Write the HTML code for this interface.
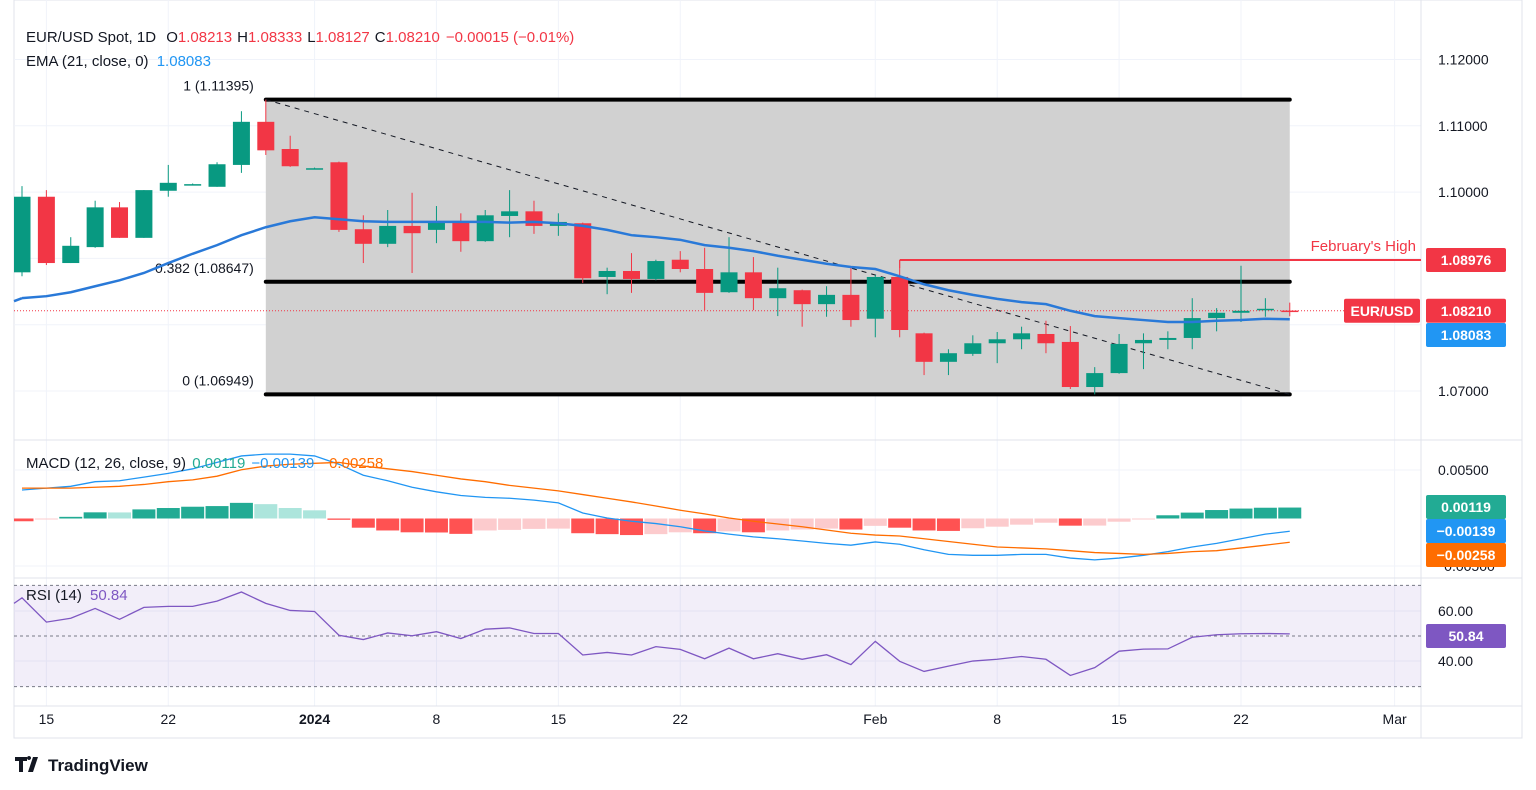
<!DOCTYPE html>
<html><head><meta charset="utf-8">
<style>
body{margin:0;background:#fff;font-family:"Liberation Sans",sans-serif;}
#wrap{position:relative;width:1536px;height:790px;overflow:hidden;}
svg text{font-family:"Liberation Sans",sans-serif;}
</style></head>
<body>
<div id="wrap">
<svg id="chart" width="1536" height="790" xmlns="http://www.w3.org/2000/svg">
<defs><clipPath id="plotclip"><rect x="14" y="0" width="1407" height="706"/></clipPath></defs>
</svg>
</div>
<script>
const dates=["Dec 14","Dec 15","Dec 18","Dec 19","Dec 20","Dec 21","Dec 22","Dec 25","Dec 26","Dec 27","Dec 28","Dec 29","Jan 1","Jan 2","Jan 3","Jan 4","Jan 5","Jan 8","Jan 9","Jan 10","Jan 11","Jan 12","Jan 15","Jan 16","Jan 17","Jan 18","Jan 19","Jan 22","Jan 23","Jan 24","Jan 25","Jan 26","Jan 29","Jan 30","Jan 31","Feb 1","Feb 2","Feb 5","Feb 6","Feb 7","Feb 8","Feb 9","Feb 12","Feb 13","Feb 14","Feb 15","Feb 16","Feb 19","Feb 20","Feb 21","Feb 22","Feb 23","Feb 26"];
const opens=[1.0879,1.0993,1.0893,1.0917,1.0977,1.0931,1.1002,1.1012,1.1008,1.1041,1.1106,1.1065,1.1036,1.1045,1.0944,1.0922,1.0949,1.0943,1.0955,1.0926,1.0964,1.0971,1.0949,1.0953,1.0872,1.0881,1.0869,1.0898,1.0884,1.0849,1.0879,1.0840,1.0852,1.0831,1.0845,1.0809,1.0872,1.0787,1.0744,1.0756,1.0772,1.0778,1.0786,1.0774,1.0706,1.0727,1.0772,1.0777,1.0780,1.0810,1.0818,1.0822,1.08213];
const highs=[1.1009,1.1003,1.0932,1.0987,1.0985,1.1003,1.1041,1.1013,1.1045,1.1122,1.11395,1.1085,1.1037,1.1046,1.0965,1.0973,1.0999,1.0979,1.0968,1.0973,1.1003,1.0987,1.0968,1.0954,1.0886,1.0908,1.0898,1.0911,1.0916,1.0932,1.0902,1.0886,1.0853,1.0858,1.0887,1.0875,1.08976,1.0788,1.0763,1.0784,1.0789,1.0797,1.0806,1.0798,1.0736,1.0786,1.0787,1.0790,1.0840,1.0825,1.0889,1.0840,1.08333];
const lows=[1.0873,1.0890,1.0893,1.0916,1.0931,1.0931,1.0993,1.1011,1.1008,1.1029,1.1056,1.1038,1.1035,1.0940,1.0893,1.0917,1.0878,1.0923,1.0910,1.0925,1.0932,1.0937,1.0934,1.0863,1.0846,1.0848,1.0867,1.0879,1.0822,1.0848,1.0822,1.0813,1.0797,1.0812,1.0797,1.0781,1.0781,1.0724,1.0724,1.0753,1.0742,1.0763,1.0757,1.0703,1.06949,1.0726,1.0733,1.0763,1.0763,1.0790,1.0804,1.0812,1.08127];
const closes=[1.0993,1.0893,1.0919,1.0977,1.0931,1.1003,1.1014,1.1012,1.1042,1.1106,1.1063,1.1039,1.1036,1.0943,1.0922,1.0949,1.0938,1.0955,1.0926,1.0965,1.0971,1.0949,1.0955,1.0870,1.0881,1.0869,1.0896,1.0884,1.0848,1.0879,1.0840,1.0855,1.0831,1.0845,1.0807,1.0872,1.0792,1.0744,1.0757,1.0772,1.0778,1.0787,1.0772,1.0706,1.0727,1.0771,1.0777,1.0780,1.0810,1.0818,1.0821,1.0824,1.08210];
const ema21=[1.0840,1.0843,1.0849,1.0858,1.0867,1.0878,1.0893,1.0907,1.0920,1.0935,1.0947,1.0956,1.0962,1.0959,1.0956,1.0955,1.0955,1.0955,1.0955,1.0955,1.0954,1.0955,1.0953,1.0949,1.0943,1.0935,1.0932,1.0928,1.0920,1.0916,1.0911,1.0904,1.0898,1.0892,1.0887,1.0884,1.0873,1.0861,1.0852,1.0845,1.0839,1.0834,1.0831,1.0821,1.0813,1.0810,1.0807,1.0804,1.0804,1.0806,1.0807,1.0809,1.08083];
const macdLine=[0.0031,0.0033,0.0035,0.0040,0.0041,0.0045,0.0049,0.0054,0.0061,0.0068,0.0070,0.0070,0.0068,0.0059,0.0047,0.0041,0.0034,0.0029,0.0025,0.0023,0.0022,0.0020,0.0017,0.0006,0.00005,-0.0003,-0.00055,-0.0009,-0.00135,-0.0017,-0.0020,-0.0022,-0.00245,-0.0027,-0.0029,-0.00255,-0.0028,-0.0034,-0.0039,-0.0040,-0.0040,-0.0039,-0.0039,-0.0043,-0.0045,-0.0043,-0.0040,-0.0036,-0.0031,-0.0027,-0.0022,-0.0017,-0.00139];
const signalLine=[0.0033,0.0033,0.0033,0.0034,0.0035,0.0037,0.0040,0.0042,0.0046,0.0053,0.0057,0.0059,0.0060,0.0061,0.0057,0.0054,0.0051,0.0047,0.0043,0.0040,0.0036,0.0033,0.0030,0.0026,0.0022,0.0018,0.00136,0.0009,0.0005,0.00005,-0.0003,-0.0006,-0.0009,-0.00125,-0.0016,-0.0018,-0.0019,-0.0022,-0.0025,-0.0028,-0.0031,-0.0032,-0.0033,-0.0035,-0.0037,-0.0038,-0.0039,-0.0038,-0.0036,-0.0035,-0.0032,-0.0029,-0.00258];
const histogram=[-0.0003,-0.0001,0.00018,0.00067,0.00066,0.00099,0.00114,0.00128,0.00135,0.0017,0.00156,0.00114,0.00089,-0.00014,-0.001,-0.0013,-0.0015,-0.00152,-0.00167,-0.0013,-0.00124,-0.00113,-0.0011,-0.0016,-0.0017,-0.0018,-0.0017,-0.0015,-0.0016,-0.0014,-0.0015,-0.0013,-0.0012,-0.0011,-0.0012,-0.0008,-0.001,-0.0013,-0.00135,-0.00106,-0.00089,-0.00067,-0.00046,-0.00078,-0.00077,-0.00035,-0.00007,0.00035,0.00064,0.00092,0.00108,0.00117,0.00119];
const rsi=[65.1,55.5,57.0,60.9,56.6,61.3,61.7,61.7,63.8,67.4,62.9,60.1,59.7,50.3,48.6,51.2,50.1,51.7,49.0,52.7,53.2,51.0,51.0,42.5,43.5,42.5,45.8,44.7,41.0,45.2,41.0,43.0,40.8,42.6,38.7,47.9,40.0,36.0,38.1,40.1,40.8,41.9,40.8,34.4,37.5,44.0,44.8,44.9,49.5,50.5,50.9,51.0,50.84];
const priceTicks=[1.12,1.11,1.10,1.07];
const priceTickLabels=["1.12000","1.11000","1.10000","1.07000"];
const priceGrid=[1.12,1.11,1.10,1.09,1.08,1.07];
const timeTickIdx=[1,6,12,17,22,27,35,40,45,50,56.3];
const timeTickLabels=["15","22","2024","8","15","22","Feb","8","15","22","Mar"];
const fibLevels=[1.11395,1.08647,1.06949];
const fibLabels=["1 (1.11395)","0.382 (1.08647)","0 (1.06949)"];
const febHigh=1.08976;
const lastClose=1.08210;

const NS="http://www.w3.org/2000/svg";
const svg=document.getElementById('chart');
function el(tag,attrs,parent){const e=document.createElementNS(NS,tag);for(const k in attrs)e.setAttribute(k,attrs[k]);(parent||svg).appendChild(e);return e;}
function txt(s,attrs,parent){const e=el('text',attrs,parent);e.textContent=s;return e;}
const X0=22,DX=24.38,PLOT_R=1421;
const xs=i=>X0+i*DX;
const py=p=>391-(p-1.07)*6630;
const my=v=>518.5-v*9200;
const ry=v=>636-(v-50)*2.53;

let g=el('rect',{x:14,y:0,width:1508,height:738,fill:'#fff',stroke:'#e0e3eb'});


const grid=el('g',{stroke:'#f0f3fa','stroke-width':1});


priceGrid.forEach(p=>el('line',{x1:14,x2:PLOT_R,y1:py(p),y2:py(p)},grid));
timeTickIdx.forEach(i=>el('line',{x1:xs(i),x2:xs(i),y1:0,y2:706},grid));
[470,566].forEach(y=>el('line',{x1:14,x2:PLOT_R,y1:y,y2:y},grid));
[611,661].forEach(y=>el('line',{x1:14,x2:PLOT_R,y1:y,y2:y},grid));
[440,578,706].forEach(y=>{const l=el('line',{x1:14,x2:1522,y1:y,y2:y,stroke:'#e0e3eb','stroke-width':1});});
const ax=el('line',{x1:PLOT_R,x2:PLOT_R,y1:0,y2:738,stroke:'#e0e3eb'});



const fx1=xs(10),fx2=xs(52);
const fb=el('rect',{x:fx1,y:py(fibLevels[0]),width:fx2-fx1,height:py(fibLevels[2])-py(fibLevels[0]),fill:'#d1d1d1'});


fibLevels.forEach((p,k)=>{
 const l=el('line',{x1:fx1,x2:fx2,y1:py(p),y2:py(p),stroke:'#000','stroke-width':4,'stroke-linecap':'round'});
 
 
 const t=txt(fibLabels[k],{x:fx1-12,y:py(p)-9,'text-anchor':'end','font-size':14,fill:'#131722'});
 
 
});
const tl=el('line',{x1:fx1,y1:py(fibLevels[0]),x2:fx2,y2:py(fibLevels[2]),stroke:'#131722','stroke-width':1,'stroke-dasharray':'5 5'});



const fh=el('line',{x1:xs(36),x2:PLOT_R,y1:py(febHigh),y2:py(febHigh),stroke:'#f23645','stroke-width':2});


const fhv=el('line',{x1:xs(36),x2:xs(36),y1:py(febHigh),y2:py(febHigh)+8,stroke:'#f23645','stroke-width':1});


const fht=txt("February's High",{x:1416,y:py(febHigh)-9,'text-anchor':'end','font-size':15,fill:'#f23645'});



const cpl=el('line',{x1:14,x2:PLOT_R,y1:py(lastClose),y2:py(lastClose),stroke:'#f23645','stroke-width':1,'stroke-dasharray':'1 2'});



const cg=el('g',{'clip-path':'url(#plotclip)'});


opens.forEach((o,i)=>{
 const c=closes[i],up=c>=o,col=up?'#089981':'#f23645',x=xs(i);
 const w=el('line',{x1:x,x2:x,y1:py(highs[i]),y2:py(lows[i]),stroke:col,'stroke-width':1},cg);
 
 
 const top=py(Math.max(o,c)),h=Math.max(1.5,Math.abs(py(o)-py(c)));
 const b=el('rect',{x:x-8.5,y:top,width:17,height:h,fill:col},cg);
 
 
});
const ema=el('polyline',{points:ema21.map((v,i)=>xs(i)+','+py(v)).join(' '),fill:'none',stroke:'#2979d8','stroke-width':2.5});


const emaStart=el('line',{x1:14,y1:py(ema21[0])+3,x2:xs(0),y2:py(ema21[0]),stroke:'#2979d8','stroke-width':2.5});



const hg=el('g',{'clip-path':'url(#plotclip)'});


histogram.forEach((v,i)=>{
 const prev=i>0?histogram[i-1]:v+0.0001;
 let col;
 if(v>=0) col=(v>=prev)?'#22ab94':'#ace5dc'; else col=(v<prev)?'#ff5252':'#fccbcd';
 const y0=my(0),y1=my(v);
 const r=el('rect',{x:xs(i)-11.5,y:Math.min(y0,y1),width:23,height:Math.max(1,Math.abs(y1-y0)),fill:col},hg);
 
 
});
const ml=el('polyline',{points:macdLine.map((v,i)=>xs(i)+','+my(v)).join(' '),fill:'none',stroke:'#2196f3','stroke-width':1.3});


const sl=el('polyline',{points:signalLine.map((v,i)=>xs(i)+','+my(v)).join(' '),fill:'none',stroke:'#ff6d00','stroke-width':1.3});



const band=el('rect',{x:14,y:ry(70),width:PLOT_R-14,height:ry(30)-ry(70),fill:'#7e57c2','fill-opacity':0.1});


[70,50,30].forEach(v=>{const l=el('line',{x1:14,x2:PLOT_R,y1:ry(v),y2:ry(v),stroke:'#787b86','stroke-width':1,'stroke-dasharray':'3 3'});});
const rl=el('polyline',{points:'14,'+ry(62.9)+' '+rsi.map((v,i)=>xs(i)+','+ry(v)).join(' '),fill:'none',stroke:'#7e57c2','stroke-width':1.3});



priceTicks.forEach((p,k)=>{const t=txt(priceTickLabels[k],{x:1438,y:py(p)+5,'font-size':14,fill:'#131722'});});
[[470,'0.00500'],[611,'60.00'],[661,'40.00']].forEach(a=>{const t=txt(a[1],{x:1438,y:a[0]+5,'font-size':14,fill:'#131722'});});
const hid=txt('−0.00500',{x:1436,y:571,'font-size':14,fill:'#131722'});


function badge(label,y,bg,name){
 const gg=el('g',{});
 
 
 el('rect',{x:1426,y:y-12,width:80,height:24,rx:2,fill:bg},gg);
 txt(label,{x:1466,y:y+5,'text-anchor':'middle','font-size':14,'font-weight':'bold',fill:'#fff'},gg);
}
badge(febHigh.toFixed(5),py(febHigh),'#f23645','february-high-badge');
badge(lastClose.toFixed(5),py(lastClose),'#f23645','last-price-badge');
badge(ema21[52].toFixed(5),335,'#2196f3','ema-badge');
badge(histogram[52].toFixed(5),507,'#22ab94','histogram-badge');
badge('−0.00139',531,'#2196f3','macd-badge');
badge('−0.00258',555,'#ff6d00','signal-badge');
badge(rsi[52].toFixed(2),636,'#7e57c2','rsi-badge');
const sym=el('g',{});


el('rect',{x:1344,y:py(lastClose)-12,width:76,height:24,rx:2,fill:'#f23645'},sym);
txt('EUR/USD',{x:1382,y:py(lastClose)+5,'text-anchor':'middle','font-size':14,'font-weight':'bold',fill:'#fff'},sym);

timeTickIdx.forEach((i,k)=>{const t=txt(timeTickLabels[k],{x:xs(i),y:724,'text-anchor':'middle','font-size':14,'font-weight':timeTickLabels[k]==='2024'?'bold':'normal',fill:'#131722'});});

const h1=txt('',{x:26,y:42,'font-size':15,fill:'#131722'});


h1.innerHTML='<tspan>EUR/USD Spot, 1D </tspan><tspan dx="6">O</tspan><tspan fill="#f23645">1.08213</tspan><tspan dx="5">H</tspan><tspan fill="#f23645">1.08333</tspan><tspan dx="5">L</tspan><tspan fill="#f23645">1.08127</tspan><tspan dx="5">C</tspan><tspan fill="#f23645">1.08210</tspan><tspan dx="6" fill="#f23645">−0.00015 (−0.01%)</tspan>';
const h2=txt('',{x:26,y:66,'font-size':15,fill:'#131722'});


h2.innerHTML='<tspan>EMA (21, close, 0) </tspan><tspan dx="4" fill="#2196f3">1.08083</tspan>';
const h3=txt('',{x:26,y:468,'font-size':15,fill:'#131722'});


h3.innerHTML='<tspan>MACD (12, 26, close, 9) </tspan><tspan dx="2" fill="#22ab94">0.00119</tspan><tspan dx="6" fill="#2196f3">−0.00139</tspan><tspan dx="6" fill="#ff6d00">−0.00258</tspan>';
const h4=txt('',{x:26,y:600,'font-size':15,fill:'#131722'});


h4.innerHTML='<tspan>RSI (14) </tspan><tspan dx="4" fill="#7e57c2">50.84</tspan>';

const lg=el('g',{});


el('path',{d:'M15 757h12v4h-4v11h-4v-11h-4z M29 760a2 2 0 1 1 0.01 0 M33 757h5l-5 15h-5z',fill:'#131722'},lg);
txt('TradingView',{x:48,y:771,'font-size':17,'font-weight':'bold',fill:'#131722'},lg);
</script>
</body></html>
